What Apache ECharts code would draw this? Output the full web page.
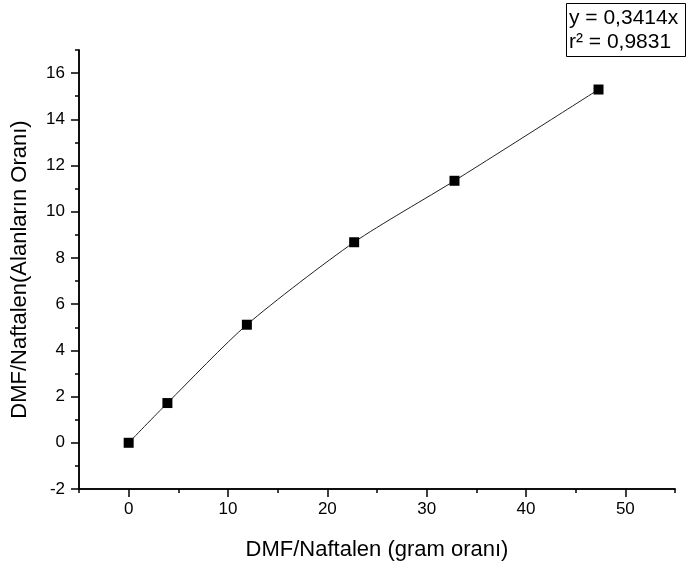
<!DOCTYPE html>
<html>
<head>
<meta charset="utf-8">
<script src="https://cdn.jsdelivr.net/npm/echarts@6/dist/echarts.min.js"></script>
<style>html,body{margin:0;padding:0;background:#fff}#c{width:689px;height:568px}</style>
</head>
<body>
<div id="c"></div>
<script>
var xValues = [0, 3.9, 11.9, 22.7, 32.8, 47.3];
var yValues = [0, 1.72, 5.11, 8.68, 11.34, 15.29];
var xMajorTicks = [0, 10, 20, 30, 40, 50];
var xMinorTicks = [-5, 5, 15, 25, 35, 45, 55];
var yMajorTicks = [-2, 0, 2, 4, 6, 8, 10, 12, 14, 16];
var yMinorTicks = [-1, 1, 3, 5, 7, 9, 11, 13, 15, 17];
var equationLines = ['y = 0,3414x', 'r\u00b2 = 0,9831'];
var xTitle = 'DMF/Naftalen (gram oranı)';
var yTitle = 'DMF/Naftalen(Alanların Oranı)';

var FONT = 'Liberation Sans, Arial, sans-serif';
var chart = echarts.init(document.getElementById('c'));

function baseX(extra) {
  return Object.assign({
    type: 'value', min: -5, max: 55, gridIndex: 0, position: 'bottom',
    axisLine: { show: true, onZero: false, lineStyle: { color: '#000', width: 1.5 } },
    splitLine: { show: false }
  }, extra);
}
function baseY(extra) {
  return Object.assign({
    type: 'value', min: -2, max: 17, gridIndex: 0, position: 'left',
    axisLine: { show: true, onZero: false, lineStyle: { color: '#000', width: 1.5 } },
    splitLine: { show: false }
  }, extra);
}

var pts = xValues.map(function (x, i) { return [x, yValues[i]]; });

chart.setOption({
  animation: false,
  backgroundColor: '#fff',
  title: {
    text: equationLines.join('\n'),
    left: 566, top: 3,
    borderColor: '#000', borderWidth: 1,
    padding: [3, 8, 3, 3],
    textStyle: { fontFamily: FONT, fontSize: 21, fontWeight: 'normal', color: '#000', lineHeight: 24 }
  },
  grid: { left: 79, right: 14, top: 50, bottom: 79, containLabel: false },
  xAxis: [
    baseX({
      name: xTitle, nameLocation: 'middle', nameGap: 50,
      nameTextStyle: { fontFamily: FONT, fontSize: 22, color: '#000' },
      axisTick: { show: true, inside: false, length: 8, customValues: xMajorTicks, lineStyle: { color: '#000', width: 1.5 } },
      axisLabel: { show: true, customValues: xMajorTicks, margin: 12, fontFamily: FONT, fontSize: 17, color: '#000' }
    }),
    baseX({
      axisTick: { show: true, inside: false, length: 4, customValues: xMinorTicks, lineStyle: { color: '#000', width: 1.5 } },
      axisLabel: { show: false }
    })
  ],
  yAxis: [
    baseY({
      name: yTitle, nameLocation: 'middle', nameGap: 48, nameRotate: 90,
      nameTextStyle: { fontFamily: FONT, fontSize: 22, color: '#000' },
      axisTick: { show: true, inside: false, length: 8, customValues: yMajorTicks, lineStyle: { color: '#000', width: 1.5 } },
      axisLabel: { show: true, customValues: yMajorTicks, margin: 14, fontFamily: FONT, fontSize: 17, color: '#000' }
    }),
    baseY({
      axisTick: { show: true, inside: false, length: 4, customValues: yMinorTicks, lineStyle: { color: '#000', width: 1.5 } },
      axisLabel: { show: false }
    })
  ],
  series: [{
    type: 'line',
    xAxisIndex: 0, yAxisIndex: 0,
    data: pts,
    smooth: 0.25,
    symbol: 'rect',
    symbolSize: 10,
    itemStyle: { color: '#000' },
    lineStyle: { color: '#222', width: 1 }
  }]
});
</script>
</body>
</html>
